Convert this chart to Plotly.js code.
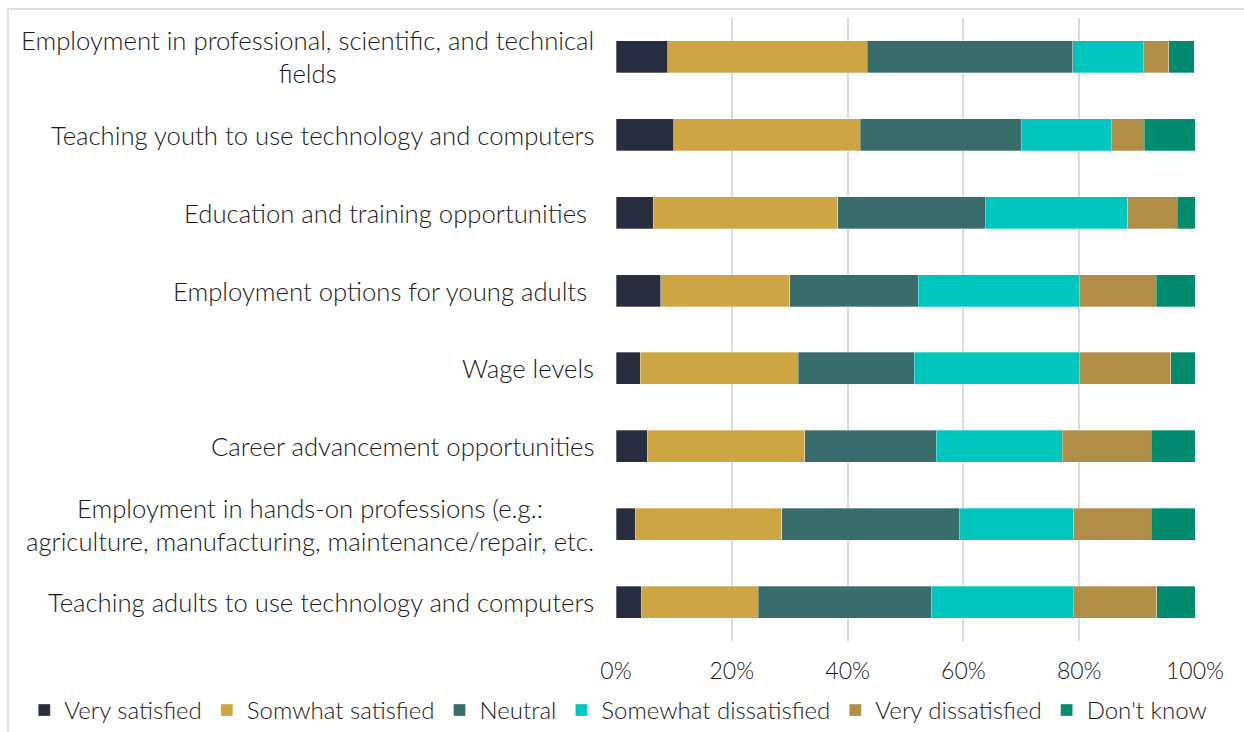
<!DOCTYPE html>
<html>
<head>
<meta charset="utf-8">
<script src="https://cdn.plot.ly/plotly-3.0.1.min.js"></script>
<style>
  body { margin: 0; background: #fff; }
  #plot { position: absolute; left: 0; top: 0; width: 1244px; height: 732px; }
  #frame {
    position: absolute; left: 7px; top: 8px; right: 0; bottom: 0;
    border-left: 2px solid #dcdde6; border-top: 2px solid #dcdde6;
    pointer-events: none;
  }
</style>
</head>
<body>
<div id="plot"></div>
<div id="frame"></div>
<script>
const categories = [
  "Employment in professional, scientific, and technical<br>fields",
  "Teaching youth to use technology and computers",
  "Education and training opportunities ",
  "Employment options for young adults ",
  "Wage levels",
  "Career advancement opportunities",
  "Employment in hands-on professions (e.g.:<br>agriculture, manufacturing, maintenance/repair, etc.",
  "Teaching adults to use technology and computers"
];

const seriesNames = [
  "Very satisfied",
  "Somwhat satisfied",
  "Neutral",
  "Somewhat dissatisfied",
  "Very dissatisfied",
  "Don't know"
];

const colors = ["#2a2d3e", "#cda643", "#386d6b", "#00c5bf", "#b08e48", "#018b6f"];

const verySatisfied        = [0.089, 0.100, 0.064, 0.077, 0.042, 0.054, 0.033, 0.044];
const somewhatSatisfied    = [0.345, 0.322, 0.319, 0.223, 0.273, 0.272, 0.253, 0.202];
const neutral              = [0.355, 0.278, 0.256, 0.222, 0.200, 0.227, 0.307, 0.299];
const somewhatDissatisfied = [0.122, 0.155, 0.245, 0.278, 0.285, 0.218, 0.198, 0.245];
const veryDissatisfied     = [0.044, 0.057, 0.085, 0.133, 0.158, 0.153, 0.133, 0.144];
const dontKnow             = [0.044, 0.088, 0.031, 0.067, 0.042, 0.076, 0.076, 0.067];

const values = [verySatisfied, somewhatSatisfied, neutral, somewhatDissatisfied, veryDissatisfied, dontKnow];

const fontFamily = "Lato, 'Open Sans', sans-serif";
const textColor = "#1a1a1a";

const traces = seriesNames.map((name, i) => ({
  type: "bar",
  orientation: "h",
  name: name,
  x: values[i],
  y: categories,
  width: 0.41,
  marker: { color: colors[i], line: { color: "rgba(255,255,255,0.6)", width: 0.5 } },
  hoverinfo: "skip"
}));

// category labels as annotations so wrapped lines are centred
const labels = categories.map(c => ({
  x: 0,
  xref: "paper",
  y: c,
  yref: "y",
  text: c,
  showarrow: false,
  xanchor: "right",
  xshift: -20,
  align: "center",
  font: { family: fontFamily, size: 25.7, weight: 300, color: textColor }
}));

const layout = {
  width: 1244,
  height: 732,
  barmode: "stack",
  margin: { l: 616, r: 49, t: 18, b: 91, autoexpand: false },
  paper_bgcolor: "#ffffff",
  plot_bgcolor: "#ffffff",
  font: { family: fontFamily, size: 24, weight: 300, color: textColor },
  xaxis: {
    range: [0, 1],
    tickvals: [0, 0.2, 0.4, 0.6, 0.8, 1],
    ticktext: ["0%", "20%", "40%", "60%", "80%", "100%"],
    showgrid: true,
    gridcolor: "#d9dae3",
    gridwidth: 2,
    zeroline: false,
    showline: false,
    ticks: "",
    ticklabelstandoff: 14,
    tickfont: { family: fontFamily, size: 23, weight: 300, color: textColor },
    fixedrange: true
  },
  yaxis: {
    autorange: "reversed",
    showticklabels: false,
    showgrid: false,
    zeroline: false,
    ticks: "",
    fixedrange: true
  },
  annotations: labels,
  showlegend: true,
  legend: {
    orientation: "h",
    x: -1.022,
    xanchor: "left",
    y: -0.0754,
    yanchor: "top",
    traceorder: "normal",
    font: { family: fontFamily, size: 24, weight: 300, color: textColor },
    itemwidth: 30
  }
};

Plotly.newPlot("plot", traces, layout, { displayModeBar: false, staticPlot: true });
</script>
</body>
</html>
